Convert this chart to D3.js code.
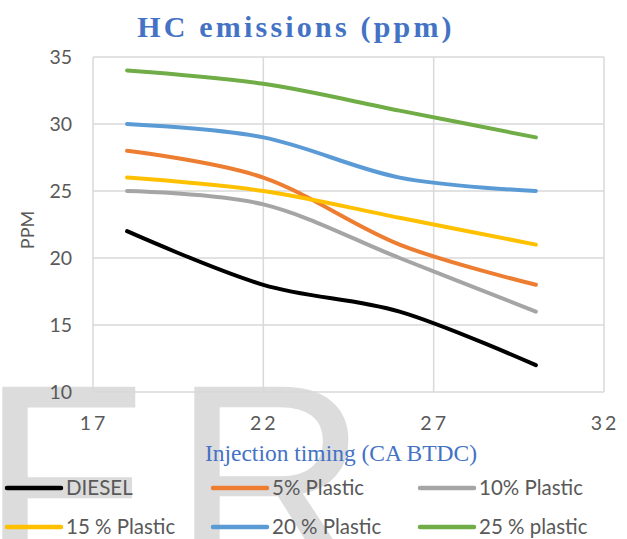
<!DOCTYPE html>
<html>
<head>
<meta charset="utf-8">
<script src="https://cdn.jsdelivr.net/npm/d3@7"></script>
<style>
  body { margin: 0; background: #fff; }
  svg { display: block; }
  .tick-label { font-family: Lato, "Liberation Sans", sans-serif; font-size: 19.5px; fill: #595959; }
  .legend-label { font-family: Lato, "Liberation Sans", sans-serif; font-size: 20.5px; fill: #595959; }
</style>
</head>
<body>
<div id="chart"></div>
<script>
// injection timing (CA BTDC)
const timings = [18, 22, 26, 30];

const seriesNames = ['DIESEL', '5% Plastic', '10% Plastic', '15 % Plastic', '20 % Plastic', '25 % plastic'];
const seriesColors = ['#000000', '#ED7D31', '#A5A5A5', '#FFC000', '#5B9BD5', '#70AD47'];

// HC in ppm
const diesel = [22, 18, 16, 12];
const plastic5 = [28, 26, 21, 18];
const plastic10 = [25, 24, 20, 16];
const plastic15 = [26, 25, 23, 21];
const plastic20 = [30, 29, 26, 25];
const plastic25 = [34, 33, 31, 29];

const xTicks = [17, 22, 27, 32];
const yTicks = [10, 15, 20, 25, 30, 35];

const allSeries = [diesel, plastic5, plastic10, plastic15, plastic20, plastic25];

const width = 627, height = 539;
const margin = {top: 57, right: 23, bottom: 147, left: 93};

const svg = d3.select('#chart').append('svg')
    .attr('width', width)
    .attr('height', height);

// big faded watermark letters from the scanned page
const mark = svg.append('g')
    .attr('fill', '#dcdcdc')
    .attr('font-family', '"Liberation Sans", Arial, sans-serif')
    .attr('font-size', 272);
mark.append('text').attr('x', -20).attr('y', 574).text('F');
mark.append('text').attr('x', 172).attr('y', 574).text('R');

const x = d3.scaleLinear()
    .domain([17, 32])
    .range([margin.left, width - margin.right]);

const y = d3.scaleLinear()
    .domain([10, 35])
    .range([height - margin.bottom, margin.top]);

// gridlines
svg.append('g')
    .selectAll('line.hgrid')
    .data(yTicks)
  .join('line')
    .attr('class', 'hgrid')
    .attr('x1', x(17)).attr('x2', x(32))
    .attr('y1', d => y(d)).attr('y2', d => y(d))
    .attr('stroke', '#d9d9d9')
    .attr('stroke-width', 1.5);

svg.append('g')
    .selectAll('line.vgrid')
    .data(xTicks)
  .join('line')
    .attr('class', 'vgrid')
    .attr('x1', d => x(d)).attr('x2', d => x(d))
    .attr('y1', y(10)).attr('y2', y(35))
    .attr('stroke', '#d9d9d9')
    .attr('stroke-width', 1.5);

// tick labels
svg.append('g')
    .selectAll('text')
    .data(yTicks)
  .join('text')
    .attr('class', 'tick-label')
    .attr('x', 72)
    .attr('y', d => y(d))
    .attr('dy', '0.35em')
    .attr('text-anchor', 'end')
    .text(d => d);

svg.append('g')
    .selectAll('text')
    .data(xTicks)
  .join('text')
    .attr('class', 'tick-label')
    .attr('x', d => x(d) + 1)
    .attr('y', 423)
    .attr('dy', '0.35em')
    .attr('text-anchor', 'middle')
    .style('letter-spacing', '3px')
    .text(d => d);

// lines
const line = d3.line()
    .x((d, i) => x(timings[i]))
    .y(d => y(d))
    .curve(d3.curveCatmullRom.alpha(0));

svg.append('g')
    .selectAll('path')
    .data(allSeries)
  .join('path')
    .attr('d', line)
    .attr('fill', 'none')
    .attr('stroke', (d, i) => seriesColors[i])
    .attr('stroke-width', 4)
    .attr('stroke-linecap', 'round');

// titles
svg.append('text')
    .attr('x', 296)
    .attr('y', 37)
    .attr('text-anchor', 'middle')
    .attr('font-family', '"Liberation Serif", "Times New Roman", serif')
    .attr('font-weight', 'bold')
    .attr('font-size', 30)
    .style('letter-spacing', '3.2px')
    .attr('fill', '#4472C4')
    .text('HC emissions (ppm)');

svg.append('text')
    .attr('x', 341)
    .attr('y', 453)
    .attr('dy', '0.35em')
    .attr('text-anchor', 'middle')
    .attr('font-family', '"Liberation Serif", "Times New Roman", serif')
    .attr('font-size', 23.5)
    .attr('fill', '#4472C4')
    .text('Injection timing (CA BTDC)');

svg.append('text')
    .attr('transform', 'translate(28,230) rotate(-90)')
    .attr('text-anchor', 'middle')
    .attr('dy', '0.35em')
    .attr('font-family', 'Lato, "Liberation Sans", sans-serif')
    .attr('font-size', 18)
    .attr('fill', '#595959')
    .text('PPM');

// legend
const legendCols = [7, 213, 420];
const legendRows = [488, 527];

const legendItem = svg.append('g')
    .selectAll('g')
    .data(seriesNames)
  .join('g')
    .attr('transform', (d, i) => `translate(${legendCols[i % 3]},${legendRows[Math.floor(i / 3)]})`);

legendItem.append('line')
    .attr('x1', 0).attr('x2', 54)
    .attr('stroke', (d, i) => seriesColors[i])
    .attr('stroke-width', 4.5)
    .attr('stroke-linecap', 'round');

legendItem.append('text')
    .attr('class', 'legend-label')
    .attr('x', 59)
    .attr('dy', '0.35em')
    .text(d => d);
</script>
</body>
</html>
